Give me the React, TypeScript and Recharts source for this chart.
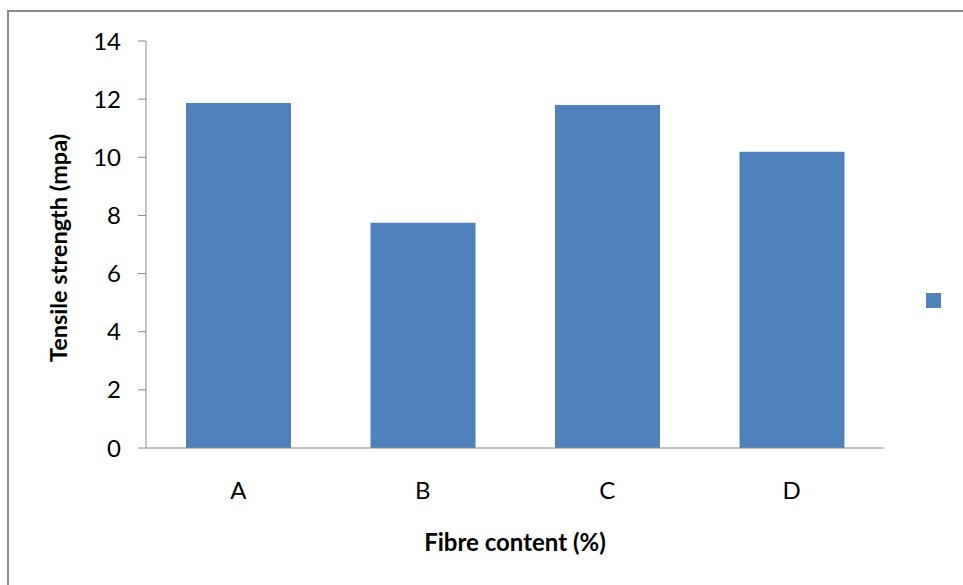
import React from "react";
import { BarChart, Bar, XAxis, YAxis, Legend, Label } from "recharts";

const categories = ["A", "B", "C", "D"];
const strength = [11.87, 7.75, 11.8, 10.19];
const yTicks = [0, 2, 4, 6, 8, 10, 12, 14];

const data = categories.map((c, i) => ({ name: c, value: strength[i] }));

const FONT = "Lato, 'Liberation Sans', sans-serif";
const AXIS = "#868686";
const BAR = "#4F81BD";

const LegendSquare = () => (
  <div style={{ width: 15, height: 15, background: BAR }} />
);

export default function App() {
  return (
    <div
      style={{
        position: "absolute",
        left: 0,
        top: 0,
        width: 963,
        height: 585,
        overflow: "hidden",
        background: "#fff",
        fontFamily: FONT,
      }}
    >
      {/* outer chart frame, only top/left edges visible */}
      <div
        style={{
          position: "absolute",
          left: 7,
          top: 10,
          width: 1000,
          height: 700,
          borderTop: "2px solid #8c8c8c",
          borderLeft: "2px solid #8c8c8c",
        }}
      />
      <div style={{ position: "absolute", left: 0, top: 0 }}>
        <BarChart
          width={963}
          height={585}
          data={data}
          margin={{ top: 41, right: 79, bottom: 107, left: 0 }}
        >
          <XAxis
            dataKey="name"
            height={30}
            axisLine={{ stroke: AXIS, strokeWidth: 1 }}
            tickLine={false}
            tickSize={0}
            tickMargin={34}
            tick={{ fill: "#000", fontSize: 24, fontFamily: FONT }}
          >
            <Label
              content={() => (
                <text
                  x={515}
                  y={551}
                  textAnchor="middle"
                  fontSize={24}
                  fontWeight={700}
                  fontFamily={FONT}
                  fill="#000"
                >
                  Fibre content (%)
                </text>
              )}
            />
          </XAxis>
          <YAxis
            width={146}
            domain={[0, 14]}
            ticks={yTicks}
            interval={0}
            axisLine={{ stroke: AXIS, strokeWidth: 1 }}
            tickLine={{ stroke: AXIS, strokeWidth: 1 }}
            tickSize={8}
            tickMargin={17}
            tick={{ fill: "#000", fontSize: 24, fontFamily: FONT }}
          >
            <Label
              content={() => (
                <text
                  x={67}
                  y={248}
                  transform="rotate(-90, 67, 248)"
                  textAnchor="middle"
                  fontSize={23.5}
                  fontWeight={700}
                  fontFamily={FONT}
                  fill="#000"
                >
                  Tensile strength (mpa)
                </text>
              )}
            />
          </YAxis>
          <Legend
            layout="vertical"
            align="center"
            verticalAlign="middle"
            content={() => <LegendSquare />}
            wrapperStyle={{ left: 926, top: 293, width: 15, height: 15 }}
          />
          <Bar dataKey="value" name="" fill={BAR} barSize={105} isAnimationActive={false} />
        </BarChart>
      </div>
    </div>
  );
}
